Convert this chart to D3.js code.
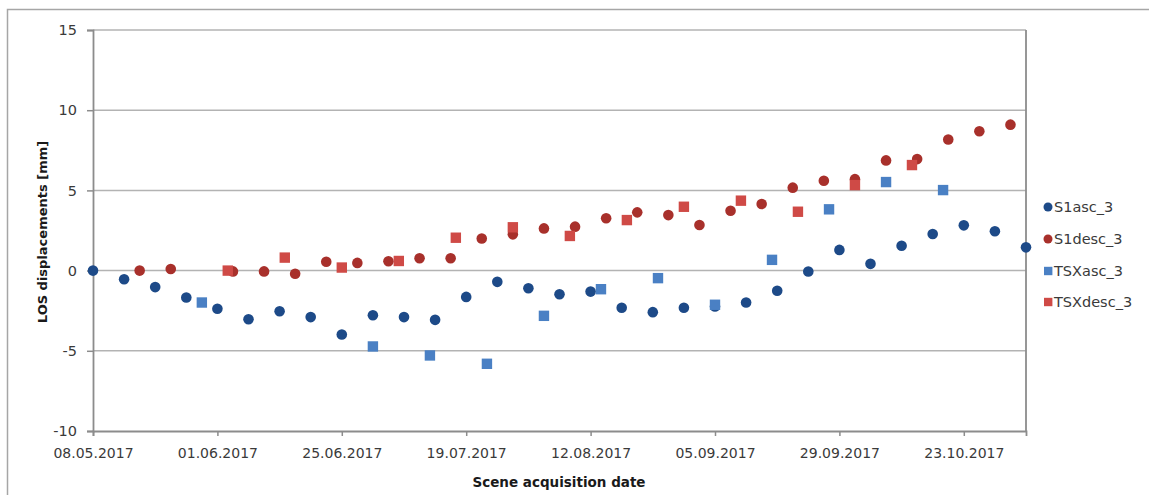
<!DOCTYPE html>
<html>
<head>
<meta charset="utf-8">
<script src="https://cdn.jsdelivr.net/npm/d3@7"></script>
<style>
  html, body { margin: 0; padding: 0; background: #fff; }
  svg { display: block; font-family: "DejaVu Sans", sans-serif; }
</style>
</head>
<body>
<svg id="chart" width="1149" height="495"></svg>
<script>
// Acquisition dates and LOS displacement values [mm] per series
const s1ascDates = ["08.05.2017","14.05.2017","20.05.2017","26.05.2017","01.06.2017","07.06.2017","13.06.2017","19.06.2017","25.06.2017","01.07.2017","07.07.2017","13.07.2017","19.07.2017","25.07.2017","31.07.2017","06.08.2017","12.08.2017","18.08.2017","24.08.2017","30.08.2017","05.09.2017","11.09.2017","17.09.2017","23.09.2017","29.09.2017","05.10.2017","11.10.2017","17.10.2017","23.10.2017","29.10.2017","04.11.2017"];
const s1ascValues = [0, -0.54, -1.03, -1.68, -2.38, -3.03, -2.53, -2.9, -3.98, -2.78, -2.9, -3.07, -1.64, -0.7, -1.1, -1.47, -1.31, -2.32, -2.59, -2.32, -2.24, -1.99, -1.26, -0.06, 1.29, 0.42, 1.55, 2.28, 2.82, 2.45, 1.45];

const s1descDates = ["17.05.2017","23.05.2017","04.06.2017","10.06.2017","16.06.2017","22.06.2017","28.06.2017","04.07.2017","10.07.2017","16.07.2017","22.07.2017","28.07.2017","03.08.2017","09.08.2017","15.08.2017","21.08.2017","27.08.2017","02.09.2017","08.09.2017","14.09.2017","20.09.2017","26.09.2017","02.10.2017","08.10.2017","14.10.2017","20.10.2017","26.10.2017","01.11.2017"];
const s1descValues = [0, 0.1, -0.05, -0.05, -0.2, 0.55, 0.48, 0.58, 0.77, 0.77, 2.0, 2.26, 2.63, 2.74, 3.26, 3.63, 3.46, 2.84, 3.73, 4.15, 5.17, 5.6, 5.7, 6.87, 6.95, 8.17, 8.69, 9.1];

const tsxascDates = ["29.05.2017","01.07.2017","12.07.2017","23.07.2017","03.08.2017","14.08.2017","25.08.2017","05.09.2017","16.09.2017","27.09.2017","08.10.2017","19.10.2017"];
const tsxascValues = [-1.99, -4.73, -5.29, -5.81, -2.82, -1.16, -0.47, -2.13, 0.67, 3.82, 5.52, 5.02];

const tsxdescDates = ["03.06.2017","14.06.2017","25.06.2017","06.07.2017","17.07.2017","28.07.2017","08.08.2017","19.08.2017","30.08.2017","10.09.2017","21.09.2017","02.10.2017","13.10.2017"];
const tsxdescValues = [0, 0.81, 0.19, 0.6, 2.05, 2.7, 2.16, 3.15, 3.98, 4.36, 3.67, 5.33, 6.58];

const seriesNames = ["S1asc_3", "S1desc_3", "TSXasc_3", "TSXdesc_3"];
const xTickLabels = ["08.05.2017","01.06.2017","25.06.2017","19.07.2017","12.08.2017","05.09.2017","29.09.2017","23.10.2017"];
const yTickValues = [-10, -5, 0, 5, 10, 15];
const xDomain = ["08.05.2017", "04.11.2017"];
const yDomain = [-10, 15];

const parse = d3.utcParse("%d.%m.%Y");
const fmt = d3.utcFormat("%d.%m.%Y");

const series = [
  { name: seriesNames[0], dates: s1ascDates,  values: s1ascValues,  shape: "circle", color: "#1d4a88" },
  { name: seriesNames[1], dates: s1descDates, values: s1descValues, shape: "circle", color: "#a8302b" },
  { name: seriesNames[2], dates: tsxascDates, values: tsxascValues, shape: "square", color: "#4a80c4" },
  { name: seriesNames[3], dates: tsxdescDates,values: tsxdescValues,shape: "square", color: "#cf4a46" }
];

const svg = d3.select("#chart");
const plot = { left: 93, right: 1026, top: 30, bottom: 431 };

const x = d3.scaleUtc().domain(xDomain.map(parse)).range([plot.left, plot.right]);
const y = d3.scaleLinear().domain(yDomain).range([plot.bottom, plot.top]);

// outer chart frame
svg.append("rect")
  .attr("x", 7.5).attr("y", 9.5)
  .attr("width", 1160).attr("height", 500)
  .attr("fill", "none").attr("stroke", "#a6a6a6").attr("stroke-width", 1.5);

// horizontal gridlines
svg.append("g")
  .selectAll("line")
  .data(yTickValues.filter(v => v > yDomain[0]))
  .join("line")
  .attr("x1", plot.left).attr("x2", plot.right)
  .attr("y1", d => y(d)).attr("y2", d => y(d))
  .attr("stroke", "#b3b3b3").attr("stroke-width", 1.5);

// plot area border (right side)
svg.append("line")
  .attr("x1", plot.right).attr("x2", plot.right)
  .attr("y1", plot.top).attr("y2", plot.bottom)
  .attr("stroke", "#8c8c8c").attr("stroke-width", 1.8);

// y axis (plain hyphen for negative values)
const yAxis = svg.append("g")
  .attr("transform", `translate(${plot.left},0)`)
  .call(d3.axisLeft(y).tickValues(yTickValues).tickSize(6).tickPadding(10).tickFormat(d => String(d)));
yAxis.select(".domain").attr("stroke", "#8c8c8c").attr("stroke-width", 1.8);
yAxis.selectAll(".tick line").attr("stroke", "#8c8c8c").attr("stroke-width", 1.5);
yAxis.selectAll(".tick text")
  .attr("font-size", 14.5).attr("fill", "#3a3a3a")
  .attr("font-family", "DejaVu Sans, sans-serif");

// x axis
const xAxis = svg.append("g")
  .attr("transform", `translate(0,${plot.bottom})`)
  .call(d3.axisBottom(x).tickValues(xTickLabels.map(parse)).tickSize(5).tickPadding(12).tickFormat(fmt));
xAxis.select(".domain").attr("stroke", "#8c8c8c").attr("stroke-width", 1.8);
xAxis.selectAll(".tick line").attr("stroke", "#8c8c8c").attr("stroke-width", 1.5);
xAxis.selectAll(".tick text")
  .attr("font-size", 14).attr("fill", "#3a3a3a")
  .attr("font-family", "DejaVu Sans, sans-serif");

// markers
series.forEach(s => {
  const pts = s.dates.map((d, i) => ({ date: parse(d), value: s.values[i] }));
  const g = svg.append("g").attr("fill", s.color);
  if (s.shape === "circle") {
    g.selectAll("circle").data(pts).join("circle")
      .attr("cx", d => x(d.date)).attr("cy", d => y(d.value)).attr("r", 5.3);
  } else {
    const h = 5.2;
    g.selectAll("rect").data(pts).join("rect")
      .attr("x", d => x(d.date) - h).attr("y", d => y(d.value) - h)
      .attr("width", 2 * h).attr("height", 2 * h);
  }
});

// axis titles
svg.append("text")
  .attr("x", 559).attr("y", 487)
  .attr("text-anchor", "middle")
  .attr("font-size", 13.5).attr("font-weight", "bold").attr("fill", "#1a1a1a")
  .text("Scene acquisition date");

svg.append("text")
  .attr("transform", "translate(47,232) rotate(-90)")
  .attr("text-anchor", "middle")
  .attr("font-size", 13).attr("font-weight", "bold").attr("fill", "#1a1a1a")
  .text("LOS displacements [mm]");

// legend
const legend = svg.append("g");
const legendY = [207, 239, 271, 302];
series.forEach((s, i) => {
  const cy = legendY[i];
  if (s.shape === "circle") {
    legend.append("circle").attr("cx", 1048).attr("cy", cy).attr("r", 4.5).attr("fill", s.color);
  } else {
    legend.append("rect").attr("x", 1044).attr("y", cy - 4.2).attr("width", 8.4).attr("height", 8.4).attr("fill", s.color);
  }
  legend.append("text")
    .attr("x", 1054).attr("y", cy).attr("dy", "0.35em")
    .attr("font-size", 14.5).attr("fill", "#3a3a3a")
    .text(s.name);
});
</script>
</body>
</html>
